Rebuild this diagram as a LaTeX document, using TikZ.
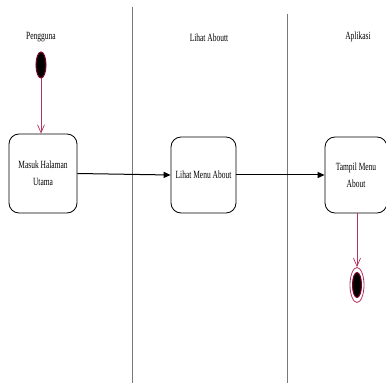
\documentclass[tikz,border=0pt]{standalone}
\usepackage{fontspec}
\setmainfont{Liberation Serif}[FakeStretch=0.68]
\usetikzlibrary{arrows.meta,shapes.geometric}
\definecolor{lanegray}{RGB}{120,120,120}
\definecolor{flowred}{RGB}{180,50,100}
\definecolor{darkred}{RGB}{130,0,40}
\begin{document}
\begin{tikzpicture}[x=1pt,y=-1pt,
  lane/.style={draw=lanegray,line width=0.8pt},
  lanelabel/.style={font=\fontsize{11}{13}\selectfont,inner sep=0pt},
  actbox/.style={draw=black,line width=0.8pt,rounded corners=10pt,align=center,
    font=\fontsize{11}{17}\selectfont,inner sep=0pt},
  flow/.style={draw=black,line width=1pt,-{Triangle[length=7pt,width=6pt]}},
  redflow/.style={draw=flowred,line width=0.7pt,-{Straight Barb[length=8pt,width=7pt,line width=0.7pt]}},
  startdot/.style={ellipse,draw=darkred,fill=black,line width=1pt,minimum width=10pt,minimum height=26pt,inner sep=0pt},
]
\useasboundingbox (0,0) rectangle (386,385);
\draw[lane] (132,7) -- (132,383);
\draw[lane] (287,14) -- (287,383);
\node[lanelabel] (l1) at (41,37) {Pengguna};
\node[lanelabel] (l2) at (209,38) {Lihat Aboutt};
\node[lanelabel] (l3) at (358,37) {Aplikasi};
\node[startdot] (start) at (41,65) {};
\node[actbox,minimum width=68pt,minimum height=79pt] (b1) at (43,173.5) {Masuk Halaman\\Utama};
\node[actbox,minimum width=65pt,minimum height=76pt] (b2) at (203.5,175) {Lihat Menu About};
\node[actbox,minimum width=62pt,minimum height=76pt] (b3) at (356,175) {Tampil Menu\\About};
\node[ellipse,draw=flowred,line width=0.8pt,minimum width=14pt,minimum height=35pt,inner sep=0pt] (endo) at (357,285) {};
\node[startdot,minimum width=9pt,minimum height=25pt] (endi) at (357,285) {};
\draw[redflow] (start.south) -- (b1.north -| start.south);
\draw[flow] (b1.east) -- (b2.west);
\draw[flow] (b2.east) -- (b3.west);
\draw[redflow] (b3.south -| endo.north) -- (endo.north);
\end{tikzpicture}
\end{document}
